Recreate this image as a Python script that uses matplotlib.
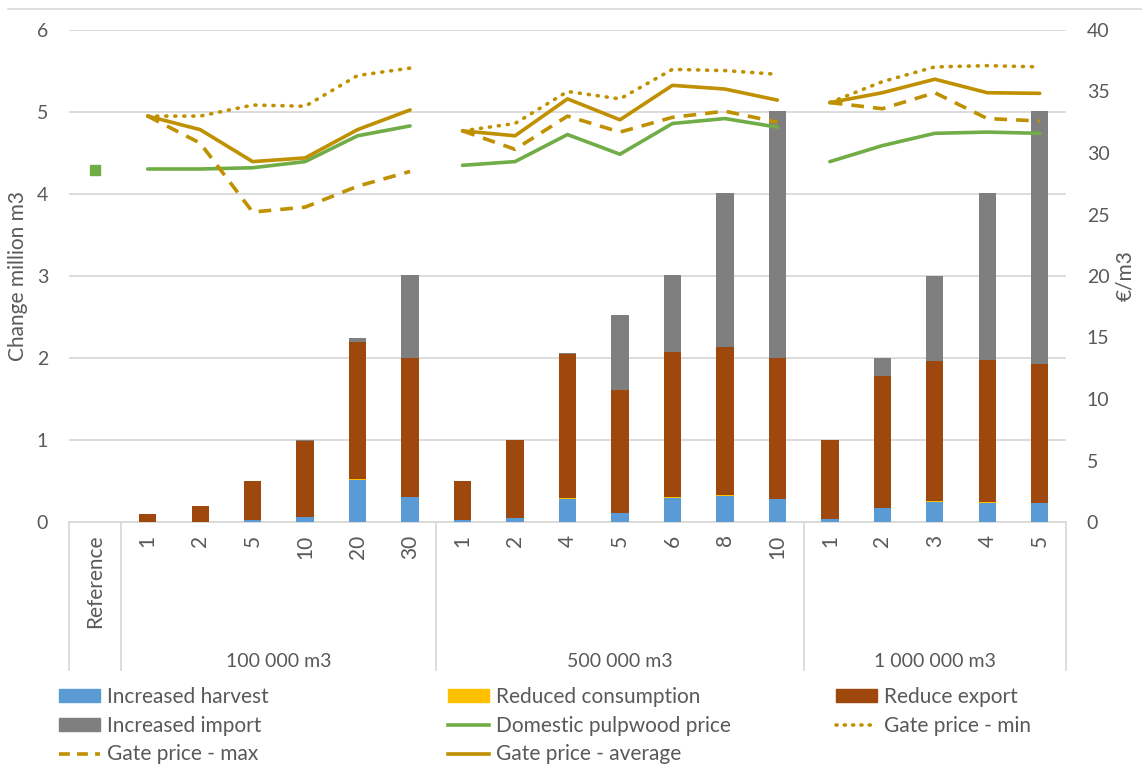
import numpy as np
import matplotlib
matplotlib.use("Agg")
import matplotlib.pyplot as plt
import matplotlib.transforms as mtransforms
from matplotlib.patches import Patch
from matplotlib.lines import Line2D

plt.rcParams["font.family"] = ["Lato", "DejaVu Sans"]

# ## Data

categories = ["Reference",
              "1", "2", "5", "10", "20", "30",
              "1", "2", "4", "5", "6", "8", "10",
              "1", "2", "3", "4", "5"]
groups = ["100 000 m3", "500 000 m3", "1 000 000 m3"]
group_slices = [(1, 7), (7, 14), (14, 19)]

# stacked bars, million m3
increased_harvest = [0, 0, 0, 0.02, 0.06, 0.51, 0.30,
                     0.02, 0.05, 0.28, 0.11, 0.29, 0.32, 0.28,
                     0.04, 0.165, 0.25, 0.235, 0.235]
reduced_consumption = [0, 0, 0, 0, 0, 0.02, 0,
                       0, 0, 0.01, 0, 0.01, 0.01, 0,
                       0, 0, 0.01, 0.01, 0]
reduce_export = [0, 0.10, 0.20, 0.48, 0.925, 1.665, 1.70,
                 0.48, 0.95, 1.755, 1.495, 1.77, 1.80, 1.72,
                 0.96, 1.61, 1.705, 1.73, 1.695]
increased_import = [0, 0, 0, 0, 0.015, 0.055, 1.01,
                    0, 0, 0.02, 0.915, 0.94, 1.885, 3.01,
                    0, 0.225, 1.035, 2.04, 3.08]

# prices, EUR/m3
domestic_price = [28.6, 28.7, 28.7, 28.8, 29.3, 31.4, 32.2,
                  29.0, 29.3, 31.5, 29.9, 32.4, 32.8, 32.1,
                  29.3, 30.6, 31.6, 31.7, 31.6]
gate_min = [np.nan, 33.0, 33.0, 33.9, 33.8, 36.3, 36.9,
            31.8, 32.4, 35.0, 34.4, 36.8, 36.7, 36.4,
            34.1, 35.8, 37.0, 37.1, 37.0]
gate_max = [np.nan, 33.0, 30.8, 25.2, 25.6, 27.3, 28.5,
            31.8, 30.3, 33.0, 31.7, 32.9, 33.4, 32.5,
            34.1, 33.6, 34.9, 32.8, 32.6]
gate_avg = [np.nan, 33.0, 31.9, 29.3, 29.6, 31.9, 33.5,
            31.8, 31.4, 34.4, 32.7, 35.5, 35.2, 34.3,
            34.1, 34.9, 36.0, 34.9, 34.85]

# ## Style

TEXT = "#595959"
GRID = "#D9D9D9"
C_HARVEST = "#5B9BD5"
C_CONS = "#FFC000"
C_EXPORT = "#9E480E"
C_IMPORT = "#7F7F7F"
C_GREEN = "#70AD47"
C_GOLD = "#BF9000"
FS = 14
FS_L = 15

fig = plt.figure(figsize=(11.42, 7.64), dpi=100)
ax = fig.add_axes([69 / 1142, 1 - 522 / 764, 997 / 1142, 492 / 764])
ax2 = ax.twinx()

x = np.arange(len(categories))
w = 0.33
b0 = np.zeros(len(x))
for vals, col in [(increased_harvest, C_HARVEST), (reduced_consumption, C_CONS),
                  (reduce_export, C_EXPORT), (increased_import, C_IMPORT)]:
    ax.bar(x, vals, w, bottom=b0, color=col, zorder=3)
    b0 = b0 + np.array(vals)

ax.set_xlim(-0.5, len(x) - 0.5)
ax.set_ylim(0, 6)
ax.set_yticks(range(7))
ax.grid(axis="y", color=GRID, linewidth=1.3, zorder=0)
ax.set_axisbelow(True)
for s in ["top", "left", "right"]:
    ax.spines[s].set_visible(False)
ax.spines["bottom"].set_color(GRID)
ax.spines["bottom"].set_linewidth(1.3)
ax.tick_params(axis="y", length=0, labelsize=FS, labelcolor=TEXT, pad=15)
ax.set_ylabel("Change million m3", fontsize=FS_L, color=TEXT, labelpad=6)

ax.set_xticks(x)
ax.set_xticklabels(categories, rotation=90, fontsize=FS_L, color=TEXT, va="top")
ax.tick_params(axis="x", length=0, pad=9)

# group labels and separators of the multi-level axis
trans = mtransforms.blended_transform_factory(ax.transData, ax.transAxes)
for name, (a, b) in zip(groups, group_slices):
    ax.text((a + b - 1) / 2, -0.283, name, transform=trans, ha="center", va="center",
            fontsize=FS, color=TEXT)
for sep in [-0.5, 0.5, 6.5, 13.5, 18.5]:
    ax.plot([sep, sep], [0, -0.30], transform=trans, color=GRID, lw=1.3, clip_on=False)

# lines on secondary axis
ax2.set_ylim(0, 40)
ax2.set_yticks(range(0, 41, 5))
ax2.tick_params(axis="y", length=0, labelsize=FS, labelcolor=TEXT, pad=15)
for s in ["top", "left", "right", "bottom"]:
    ax2.spines[s].set_visible(False)
ax2.set_ylabel("€/m3", fontsize=FS_L, color=TEXT, labelpad=4)

lw = 2.6
for a, b in group_slices:
    xs = x[a:b]
    ax2.plot(xs, domestic_price[a:b], color=C_GREEN, lw=lw, solid_capstyle="round")
    ax2.plot(xs, gate_min[a:b], color=C_GOLD, lw=lw, linestyle=(0, (0.3, 2.2)),
             dash_capstyle="round")
    ax2.plot(xs, gate_max[a:b], color=C_GOLD, lw=lw, linestyle=(0, (3.5, 2.5)))
    ax2.plot(xs, gate_avg[a:b], color=C_GOLD, lw=lw, solid_capstyle="round")
ax2.plot(x[0], domestic_price[0], marker="s", color=C_GREEN, markersize=7, linestyle="none")

# top border of the chart area
fig.add_artist(Line2D([8 / 1142, 1], [1 - 9 / 764] * 2, color=GRID, lw=1.2))

# legend in three columns
h_harv = Patch(color=C_HARVEST, label="Increased harvest")
h_cons = Patch(color=C_CONS, label="Reduced consumption")
h_exp = Patch(color=C_EXPORT, label="Reduce export")
h_imp = Patch(color=C_IMPORT, label="Increased import")
h_dom = Line2D([], [], color=C_GREEN, lw=lw, label="Domestic pulpwood price")
h_min = Line2D([], [], color=C_GOLD, lw=lw, linestyle=(0, (0.3, 2.0)),
               dash_capstyle="round", label="Gate price - min")
h_max = Line2D([], [], color=C_GOLD, lw=lw, linestyle=(0, (3.0, 2.0)), label="Gate price - max")
h_avg = Line2D([], [], color=C_GOLD, lw=lw, label="Gate price - average")

cols = [([h_harv, h_imp, h_max], 59), ([h_cons, h_dom, h_avg], 448), ([h_exp, h_min], 836)]
for handles, xpx in cols:
    fig.legend(handles=handles, loc="upper left", bbox_to_anchor=(xpx / 1142, 1 - 687 / 764),
               frameon=False, fontsize=FS_L, labelcolor=TEXT, handlelength=1.97,
               handleheight=0.6, handletextpad=0.33, labelspacing=0.42, borderpad=0,
               borderaxespad=0)

fig.savefig("out.png", dpi=100)
